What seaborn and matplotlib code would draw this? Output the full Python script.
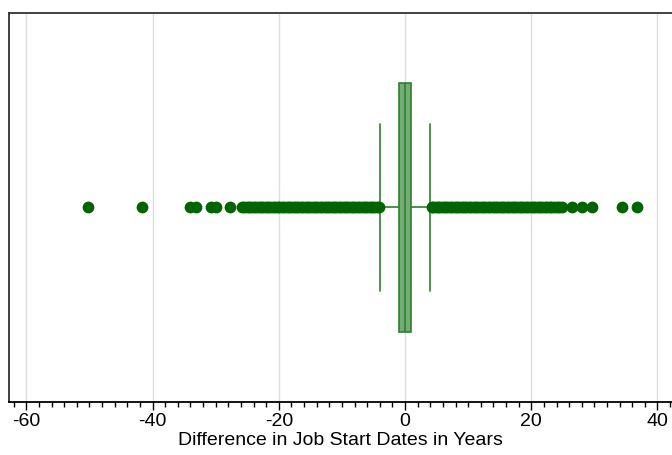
import numpy as np
import pandas as pd
import matplotlib
matplotlib.use("Agg")
import matplotlib.pyplot as plt
import seaborn as sns
from matplotlib.ticker import MultipleLocator

sns.set_theme(style="white")
plt.rcParams["font.family"] = ["Liberation Sans", "DejaVu Sans"]
plt.rcParams["text.color"] = "black"
plt.rcParams["axes.labelcolor"] = "black"
plt.rcParams["xtick.color"] = "black"

# box summary (years)
q1, median, q3 = -0.95, 0.0, 0.9
whisker_lo, whisker_hi = -4.0, 4.0

# outside values
low_outliers = [-50.2, -41.6, -34.1, -33.1, -30.7, -29.9, -27.8,
                -25.9, -25.5, -25.1, -24.7, -24.4, -24.0, -23.6, -23.2,
                -22.9, -22.5, -22.1, -21.7, -21.4, -21.0, -20.6, -20.2,
                -19.9, -19.5, -19.1, -18.7, -18.4, -18.0, -17.6, -17.2,
                -16.9, -16.5, -16.1, -15.7, -15.4, -15.0, -14.6, -14.2,
                -13.9, -13.5, -13.1, -12.7, -12.4, -12.0, -11.6, -11.2,
                -10.9, -10.5, -10.1, -9.7, -9.4, -9.0, -8.6, -8.2,
                -7.9, -7.5, -7.1, -6.7, -6.4, -6.0, -5.6, -5.2,
                -4.9, -4.5, -4.2]
high_outliers = [4.2, 4.5, 4.9, 5.2, 5.6, 6.0, 6.4, 6.7, 7.1, 7.5, 7.9,
                 8.2, 8.6, 9.0, 9.4, 9.7, 10.1, 10.5, 10.9, 11.2, 11.6,
                 12.0, 12.4, 12.7, 13.1, 13.5, 13.9, 14.2, 14.6, 15.0,
                 15.4, 15.7, 16.1, 16.5, 16.9, 17.2, 17.6, 18.0, 18.4,
                 18.7, 19.1, 19.5, 19.9, 20.2, 20.6, 21.0, 21.4, 21.7,
                 22.1, 22.5, 22.9, 23.2, 23.6, 24.0, 24.4, 24.8,
                 26.5, 28.0, 29.6, 34.4, 36.8]

xticks = [-60, -40, -20, 0, 20, 40]
xlabel = "Difference in Job Start Dates in Years"

out = pd.DataFrame({"diff": low_outliers + high_outliers})
out["row"] = 0.0

fig = plt.figure(figsize=(6.72, 4.55), dpi=100)
ax = fig.add_axes([8.7 / 672, 1 - 401.5 / 455, 1 - 8.7 / 672, (401.5 - 12.7) / 455])

for t in xticks:
    ax.axvline(t, color="#dddddd", lw=1.0, zorder=0)

dark = "#006400"
edge = "#2f7f2f"
ax.bxp([{"med": median, "q1": q1, "q3": q3, "whislo": whisker_lo,
         "whishi": whisker_hi, "fliers": []}],
       positions=[0], widths=0.64, capwidths=0.43, orientation="horizontal",
       patch_artist=True, showfliers=False,
       boxprops=dict(facecolor="#74ad74", edgecolor=edge, linewidth=1.2),
       medianprops=dict(color=edge, linewidth=1.2),
       whiskerprops=dict(color=edge, linewidth=1.2),
       capprops=dict(color=edge, linewidth=1.2), manage_ticks=False)

sns.scatterplot(data=out, x="diff", y="row", ax=ax, color=dark, s=72,
                edgecolor=dark, linewidth=0, zorder=3, legend=False)

ax.set_xlim(-62.8, 42.3)
ax.set_ylim(0.5, -0.5)
ax.set_xticks(xticks)
ax.set_xticklabels([str(t) for t in xticks])
ax.xaxis.set_minor_locator(MultipleLocator(2))
ax.tick_params(axis="x", which="major", direction="out", length=6, width=1,
               color="black", labelsize=14, pad=2, bottom=True)
ax.tick_params(axis="x", which="minor", direction="out", length=3.5, width=1,
               color="black", bottom=True)
ax.set_yticks([])
ax.set_ylabel("")
ax.set_xlabel(xlabel, fontsize=14, labelpad=2)

for side in ["left", "top", "bottom"]:
    ax.spines[side].set_color("#333333")
    ax.spines[side].set_linewidth(1.3)
ax.spines["bottom"].set_color("black")
ax.spines["right"].set_visible(False)

fig.savefig("out.png", dpi=100)
